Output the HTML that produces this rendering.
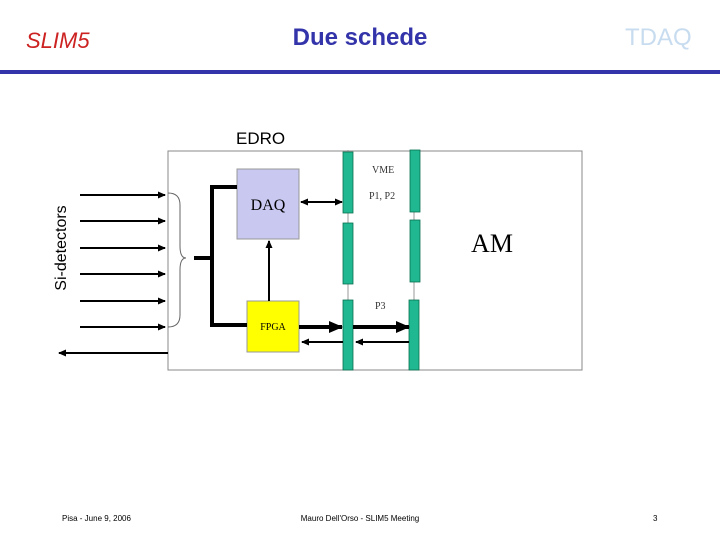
<!DOCTYPE html>
<html><head><meta charset="utf-8"><style>body{margin:0;background:#fff}svg{display:block}</style></head><body>
<svg width="720" height="540" viewBox="0 0 720 540" xmlns="http://www.w3.org/2000/svg">
<defs>
<marker id="a" markerWidth="8" markerHeight="8" refX="7" refY="4" orient="auto" markerUnits="userSpaceOnUse"><path d="M0,0.5 L8,4 L0,7.5Z" fill="#000"/></marker>
<marker id="b" markerWidth="14" markerHeight="12" refX="13" refY="6" orient="auto" markerUnits="userSpaceOnUse"><path d="M0,0 L14,6 L0,12Z" fill="#000"/></marker>
</defs>
<text x="26" y="48" font-family="Liberation Sans" font-style="italic" font-size="22" fill="#cc2222">SLIM5</text>
<text x="360" y="45" text-anchor="middle" font-family="Liberation Sans" font-weight="bold" font-size="24" fill="#3333aa">Due schede</text>
<text x="625" y="45" font-family="Liberation Sans" font-size="24" fill="#c8dcf0">TDAQ</text>
<rect x="0" y="70" width="720" height="4" fill="#3333aa"/>
<text x="236" y="144" font-family="Liberation Sans" font-size="17">EDRO</text>
<text transform="translate(66,248) rotate(-90)" text-anchor="middle" font-family="Liberation Sans" font-size="16">Si-detectors</text>
<rect x="168" y="151" width="414" height="219" fill="#fff" stroke="#888" stroke-width="1"/>
<rect x="237" y="169" width="62" height="70" fill="#c8c8f0" stroke="#999"/>
<text x="268" y="210" text-anchor="middle" font-family="Liberation Serif" font-size="16">DAQ</text>
<rect x="247" y="301" width="52" height="51" fill="#ffff00" stroke="#999"/>
<text x="273" y="330" text-anchor="middle" font-family="Liberation Serif" font-size="10">FPGA</text>
<line x1="348" y1="150" x2="348" y2="370" stroke="#999"/>
<line x1="414" y1="150" x2="414" y2="370" stroke="#999"/>
<g fill="#20b890" stroke="#0a7050" stroke-width="0.8">
<rect x="343" y="152" width="10" height="61"/><rect x="343" y="223" width="10" height="61"/><rect x="343" y="300" width="10" height="70"/>
<rect x="410" y="150" width="10" height="62"/><rect x="410" y="220" width="10" height="62"/><rect x="409" y="300" width="10" height="70"/>
</g>
<text x="372" y="173" font-family="Liberation Serif" font-size="10" fill="#333">VME</text>
<text x="369" y="199" font-family="Liberation Serif" font-size="10" fill="#333">P1, P2</text>
<text x="375" y="309" font-family="Liberation Serif" font-size="10" fill="#333">P3</text>
<text x="492" y="252" text-anchor="middle" font-family="Liberation Serif" font-size="26">AM</text>
<g stroke="#000" stroke-width="2" marker-end="url(#a)">
<line x1="80" y1="195" x2="165" y2="195"/><line x1="80" y1="221" x2="165" y2="221"/><line x1="80" y1="248" x2="165" y2="248"/>
<line x1="80" y1="274" x2="165" y2="274"/><line x1="80" y1="301" x2="165" y2="301"/><line x1="80" y1="327" x2="165" y2="327"/>
<line x1="168" y1="353" x2="59" y2="353"/>
<line x1="269" y1="301" x2="269" y2="241"/>
<line x1="343" y1="342" x2="302" y2="342"/><line x1="409" y1="342" x2="356" y2="342"/>
<line x1="320" y1="202" x2="342" y2="202"/><line x1="320" y1="202" x2="301" y2="202"/>
</g>
<path d="M168,193 Q180,193 180,205 L180,246 Q180,258 186,258 Q180,258 180,270 L180,315 Q180,327 168,327" fill="none" stroke="#666" stroke-width="1"/>
<g stroke="#000" stroke-width="4" fill="none">
<line x1="194" y1="258" x2="212" y2="258"/>
<polyline points="237,187 212,187 212,325 247,325"/>
</g>
<g stroke="#000" stroke-width="4" marker-end="url(#b)">
<line x1="299" y1="327" x2="342" y2="327"/><line x1="353" y1="327" x2="409" y2="327"/>
</g>
<text x="62" y="521" font-family="Liberation Sans" font-size="8">Pisa - June 9, 2006</text>
<text x="360" y="521" text-anchor="middle" font-family="Liberation Sans" font-size="8">Mauro Dell'Orso - SLIM5 Meeting</text>
<text x="653" y="521" font-family="Liberation Sans" font-size="8">3</text>
</svg>
</body></html>
